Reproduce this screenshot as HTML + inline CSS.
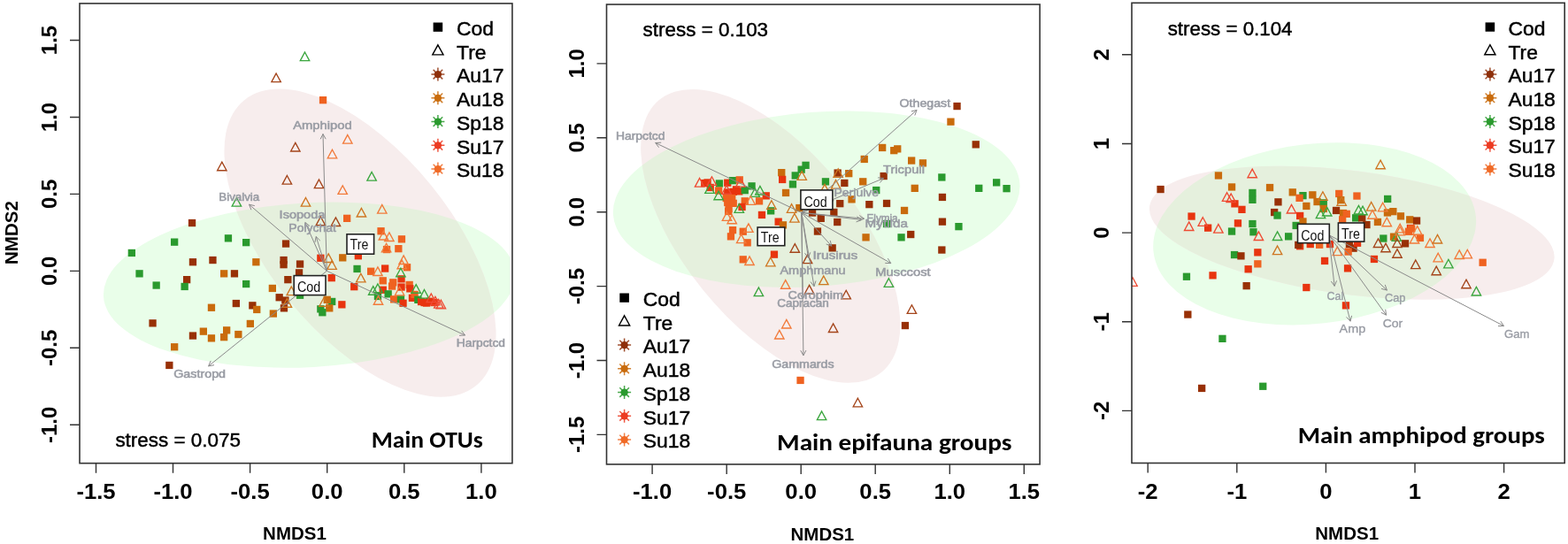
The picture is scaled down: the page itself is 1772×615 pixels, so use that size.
<!DOCTYPE html>
<html><head><meta charset="utf-8"><title>NMDS plots</title>
<style>html,body{margin:0;padding:0;background:#fff;}svg{display:block;}</style>
</head><body>
<svg width="1772" height="615" viewBox="0 0 1772 615">
<rect width="1772" height="615" fill="#fff"/>
<clipPath id="clip1"><rect x="90.0" y="3.9" width="488.9" height="519.8000000000001"/></clipPath>
<clipPath id="ce1"><rect x="92.0" y="5.9" width="484.4" height="515.3000000000001"/></clipPath>
<g clip-path="url(#ce1)">
<clipPath id="ge1"><ellipse cx="349.56" cy="322.15" rx="232.93" ry="92.87" transform="rotate(-3.18 349.56 322.15)" fill="rgb(233,254,233)"/></clipPath>
<ellipse cx="349.56" cy="322.15" rx="232.93" ry="92.87" transform="rotate(-3.18 349.56 322.15)" fill="rgb(233,254,233)"/>
<ellipse cx="407.01" cy="274.61" rx="207.88" ry="103.35" transform="rotate(50.96 407.01 274.61)" fill="rgb(247,237,237)"/>
<g clip-path="url(#ge1)"><ellipse cx="407.01" cy="274.61" rx="207.88" ry="103.35" transform="rotate(50.96 407.01 274.61)" fill="rgb(229,240,221)"/></g>
</g>
<g clip-path="url(#clip1)">
<rect x="144.7" y="281.8" width="8.3" height="8.3" fill="#2a9a2e"/>
<rect x="213.8" y="292.1" width="8.3" height="8.3" fill="#983006"/>
<rect x="236.3" y="289.9" width="8.3" height="8.3" fill="#983006"/>
<rect x="285.2" y="292.1" width="8.3" height="8.3" fill="#c96b0c"/>
<rect x="316.4" y="289.9" width="8.3" height="8.3" fill="#983006"/>
<rect x="316.4" y="295.0" width="8.3" height="8.3" fill="#983006"/>
<rect x="334.9" y="294.4" width="8.3" height="8.3" fill="#983006"/>
<rect x="383.1" y="287.2" width="8.3" height="8.3" fill="#c96b0c"/>
<rect x="153.4" y="305.2" width="8.3" height="8.3" fill="#2a9a2e"/>
<rect x="249.0" y="305.2" width="8.3" height="8.3" fill="#c96b0c"/>
<rect x="260.8" y="305.2" width="8.3" height="8.3" fill="#983006"/>
<rect x="207.0" y="312.0" width="8.3" height="8.3" fill="#983006"/>
<rect x="172.5" y="318.4" width="8.3" height="8.3" fill="#2a9a2e"/>
<rect x="204.5" y="319.8" width="8.3" height="8.3" fill="#2a9a2e"/>
<rect x="274.0" y="316.9" width="8.3" height="8.3" fill="#2a9a2e"/>
<rect x="333.9" y="304.2" width="8.3" height="8.3" fill="#983006"/>
<rect x="321.2" y="312.0" width="8.3" height="8.3" fill="#983006"/>
<rect x="370.6" y="310.0" width="8.3" height="8.3" fill="#e8340f"/>
<rect x="303.7" y="321.8" width="8.3" height="8.3" fill="#c96b0c"/>
<rect x="311.5" y="332.1" width="8.3" height="8.3" fill="#983006"/>
<rect x="318.2" y="335.4" width="8.3" height="8.3" fill="#983006"/>
<rect x="316.8" y="344.2" width="8.3" height="8.3" fill="#983006"/>
<rect x="334.9" y="329.6" width="8.3" height="8.3" fill="#2a9a2e"/>
<rect x="371.0" y="336.8" width="8.3" height="8.3" fill="#2a9a2e"/>
<rect x="368.1" y="344.2" width="8.3" height="8.3" fill="#c96b0c"/>
<rect x="358.2" y="345.2" width="8.3" height="8.3" fill="#2a9a2e"/>
<rect x="360.2" y="349.1" width="8.3" height="8.3" fill="#2a9a2e"/>
<rect x="382.2" y="340.2" width="8.3" height="8.3" fill="#e8340f"/>
<rect x="234.8" y="343.6" width="8.3" height="8.3" fill="#c96b0c"/>
<rect x="262.7" y="338.9" width="8.3" height="8.3" fill="#983006"/>
<rect x="281.2" y="341.2" width="8.3" height="8.3" fill="#983006"/>
<rect x="286.1" y="345.8" width="8.3" height="8.3" fill="#c96b0c"/>
<rect x="304.7" y="350.4" width="8.3" height="8.3" fill="#c96b0c"/>
<rect x="168.4" y="361.2" width="8.3" height="8.3" fill="#983006"/>
<rect x="278.7" y="361.8" width="8.3" height="8.3" fill="#c96b0c"/>
<rect x="213.8" y="375.4" width="8.3" height="8.3" fill="#983006"/>
<rect x="225.7" y="370.5" width="8.3" height="8.3" fill="#c96b0c"/>
<rect x="234.8" y="378.2" width="8.3" height="8.3" fill="#c96b0c"/>
<rect x="252.0" y="369.2" width="8.3" height="8.3" fill="#c96b0c"/>
<rect x="249.0" y="377.0" width="8.3" height="8.3" fill="#c96b0c"/>
<rect x="265.2" y="373.9" width="8.3" height="8.3" fill="#c96b0c"/>
<rect x="193.0" y="388.1" width="8.3" height="8.3" fill="#c96b0c"/>
<rect x="358.2" y="287.6" width="8.3" height="8.3" fill="#e8340f"/>
<rect x="388.0" y="242.7" width="8.3" height="8.3" fill="#ef6220"/>
<rect x="212.9" y="247.9" width="8.3" height="8.3" fill="#983006"/>
<rect x="193.0" y="269.5" width="8.3" height="8.3" fill="#2a9a2e"/>
<rect x="253.8" y="265.2" width="8.3" height="8.3" fill="#2a9a2e"/>
<rect x="274.0" y="270.0" width="8.3" height="8.3" fill="#2a9a2e"/>
<rect x="318.9" y="271.4" width="8.3" height="8.3" fill="#983006"/>
<rect x="360.9" y="109.0" width="8.3" height="8.3" fill="#ef6220"/>
<rect x="426.4" y="257.1" width="8.3" height="8.3" fill="#ef6220"/>
<rect x="449.8" y="266.2" width="8.3" height="8.3" fill="#ef6220"/>
<rect x="432.9" y="277.9" width="8.3" height="8.3" fill="#ef6220"/>
<rect x="446.2" y="277.0" width="8.3" height="8.3" fill="#ef6220"/>
<rect x="400.7" y="285.1" width="8.3" height="8.3" fill="#e8340f"/>
<rect x="455.9" y="298.1" width="8.3" height="8.3" fill="#ef6220"/>
<rect x="431.0" y="299.4" width="8.3" height="8.3" fill="#e8340f"/>
<rect x="399.4" y="299.8" width="8.3" height="8.3" fill="#2a9a2e"/>
<rect x="415.0" y="302.6" width="8.3" height="8.3" fill="#ef6220"/>
<rect x="396.1" y="320.0" width="8.3" height="8.3" fill="#e8340f"/>
<rect x="428.6" y="313.2" width="8.3" height="8.3" fill="#ef6220"/>
<rect x="440.1" y="315.2" width="8.3" height="8.3" fill="#ef6220"/>
<rect x="439.0" y="319.4" width="8.3" height="8.3" fill="#ef6220"/>
<rect x="449.4" y="311.2" width="8.3" height="8.3" fill="#e8340f"/>
<rect x="449.4" y="320.4" width="8.3" height="8.3" fill="#e8340f"/>
<rect x="458.5" y="317.8" width="8.3" height="8.3" fill="#ef6220"/>
<rect x="459.2" y="322.2" width="8.3" height="8.3" fill="#e8340f"/>
<rect x="422.8" y="330.8" width="8.3" height="8.3" fill="#2a9a2e"/>
<rect x="428.6" y="323.6" width="8.3" height="8.3" fill="#e8340f"/>
<rect x="434.5" y="328.2" width="8.3" height="8.3" fill="#2a9a2e"/>
<rect x="441.0" y="334.2" width="8.3" height="8.3" fill="#ef6220"/>
<rect x="448.8" y="334.2" width="8.3" height="8.3" fill="#2a9a2e"/>
<rect x="451.4" y="338.6" width="8.3" height="8.3" fill="#e8340f"/>
<rect x="461.8" y="332.7" width="8.3" height="8.3" fill="#e8340f"/>
<rect x="464.4" y="328.8" width="8.3" height="8.3" fill="#ef6220"/>
<rect x="468.2" y="334.7" width="8.3" height="8.3" fill="#2a9a2e"/>
<rect x="475.4" y="337.9" width="8.3" height="8.3" fill="#e8340f"/>
<rect x="481.2" y="336.6" width="8.3" height="8.3" fill="#e8340f"/>
<rect x="486.5" y="337.9" width="8.3" height="8.3" fill="#e8340f"/>
<rect x="477.9" y="338.4" width="8.3" height="8.3" fill="#e8340f"/>
<rect x="471.9" y="336.9" width="8.3" height="8.3" fill="#e8340f"/>
<rect x="365.6" y="334.7" width="8.3" height="8.3" fill="#c96b0c"/>
<rect x="187.2" y="408.8" width="8.3" height="8.3" fill="#983006"/>
<path d="M329.3 324.0L334.5 333.6L324.1 333.6Z" fill="none" stroke="#cf7622" stroke-width="1.35" stroke-linejoin="miter"/>
<path d="M324.4 337.6L329.6 347.2L319.2 347.2Z" fill="none" stroke="#cf7622" stroke-width="1.35" stroke-linejoin="miter"/>
<path d="M366.0 336.7L371.2 346.3L360.8 346.3Z" fill="none" stroke="#cf7622" stroke-width="1.35" stroke-linejoin="miter"/>
<path d="M375.1 294.7L380.3 304.3L369.9 304.3Z" fill="none" stroke="#cf7622" stroke-width="1.35" stroke-linejoin="miter"/>
<path d="M371.2 286.9L376.4 296.5L366.0 296.5Z" fill="none" stroke="#cf7622" stroke-width="1.35" stroke-linejoin="miter"/>
<path d="M333.8 161.4L339.0 171.0L328.6 171.0Z" fill="none" stroke="#a4441a" stroke-width="1.35" stroke-linejoin="miter"/>
<path d="M375.5 169.2L380.7 178.8L370.3 178.8Z" fill="none" stroke="#f27a3a" stroke-width="1.35" stroke-linejoin="miter"/>
<path d="M250.8 183.1L256.0 192.7L245.6 192.7Z" fill="none" stroke="#a4441a" stroke-width="1.35" stroke-linejoin="miter"/>
<path d="M324.4 198.5L329.6 208.1L319.2 208.1Z" fill="none" stroke="#a4441a" stroke-width="1.35" stroke-linejoin="miter"/>
<path d="M360.5 203.0L365.7 212.6L355.3 212.6Z" fill="none" stroke="#a4441a" stroke-width="1.35" stroke-linejoin="miter"/>
<path d="M387.2 209.8L392.4 219.4L382.0 219.4Z" fill="none" stroke="#f27a3a" stroke-width="1.35" stroke-linejoin="miter"/>
<path d="M345.5 223.5L350.7 233.1L340.3 233.1Z" fill="none" stroke="#cf7622" stroke-width="1.35" stroke-linejoin="miter"/>
<path d="M267.4 223.5L272.6 233.1L262.2 233.1Z" fill="none" stroke="#3aa63e" stroke-width="1.35" stroke-linejoin="miter"/>
<path d="M362.4 245.0L367.6 254.6L357.2 254.6Z" fill="none" stroke="#a4441a" stroke-width="1.35" stroke-linejoin="miter"/>
<path d="M379.4 245.9L384.6 255.5L374.2 255.5Z" fill="none" stroke="#a4441a" stroke-width="1.35" stroke-linejoin="miter"/>
<path d="M344.5 59.0L349.7 68.6L339.3 68.6Z" fill="none" stroke="#3aa63e" stroke-width="1.35" stroke-linejoin="miter"/>
<path d="M312.1 83.0L317.3 92.6L306.9 92.6Z" fill="none" stroke="#a4441a" stroke-width="1.35" stroke-linejoin="miter"/>
<path d="M392.8 152.5L398.0 162.1L387.6 162.1Z" fill="none" stroke="#f27a3a" stroke-width="1.35" stroke-linejoin="miter"/>
<path d="M420.1 194.5L425.3 204.1L414.9 204.1Z" fill="none" stroke="#3aa63e" stroke-width="1.35" stroke-linejoin="miter"/>
<path d="M408.4 235.4L413.6 245.0L403.2 245.0Z" fill="none" stroke="#cf7622" stroke-width="1.35" stroke-linejoin="miter"/>
<path d="M431.8 231.5L437.0 241.1L426.6 241.1Z" fill="none" stroke="#f27a3a" stroke-width="1.35" stroke-linejoin="miter"/>
<path d="M433.4 261.4L438.6 271.0L428.2 271.0Z" fill="none" stroke="#f27a3a" stroke-width="1.35" stroke-linejoin="miter"/>
<path d="M439.9 262.9L445.1 272.5L434.7 272.5Z" fill="none" stroke="#f27a3a" stroke-width="1.35" stroke-linejoin="miter"/>
<path d="M436.6 275.3L441.8 284.9L431.4 284.9Z" fill="none" stroke="#f27a3a" stroke-width="1.35" stroke-linejoin="miter"/>
<path d="M456.1 288.9L461.3 298.5L450.9 298.5Z" fill="none" stroke="#f27a3a" stroke-width="1.35" stroke-linejoin="miter"/>
<path d="M454.2 294.1L459.4 303.7L449.0 303.7Z" fill="none" stroke="#f27a3a" stroke-width="1.35" stroke-linejoin="miter"/>
<path d="M426.9 301.9L432.1 311.5L421.7 311.5Z" fill="none" stroke="#f27a3a" stroke-width="1.35" stroke-linejoin="miter"/>
<path d="M452.9 303.2L458.1 312.8L447.7 312.8Z" fill="none" stroke="#3aa63e" stroke-width="1.35" stroke-linejoin="miter"/>
<path d="M407.8 309.3L413.0 318.9L402.6 318.9Z" fill="none" stroke="#cf7622" stroke-width="1.35" stroke-linejoin="miter"/>
<path d="M451.6 324.2L456.8 333.8L446.4 333.8Z" fill="none" stroke="#f27a3a" stroke-width="1.35" stroke-linejoin="miter"/>
<path d="M470.2 321.6L475.4 331.2L465.0 331.2Z" fill="none" stroke="#3aa63e" stroke-width="1.35" stroke-linejoin="miter"/>
<path d="M479.5 327.5L484.7 337.1L474.3 337.1Z" fill="none" stroke="#3aa63e" stroke-width="1.35" stroke-linejoin="miter"/>
<path d="M421.7 323.6L426.9 333.2L416.5 333.2Z" fill="none" stroke="#3aa63e" stroke-width="1.35" stroke-linejoin="miter"/>
<path d="M426.9 321.0L432.1 330.6L421.7 330.6Z" fill="none" stroke="#3aa63e" stroke-width="1.35" stroke-linejoin="miter"/>
<path d="M427.5 334.6L432.7 344.2L422.3 344.2Z" fill="none" stroke="#f27a3a" stroke-width="1.35" stroke-linejoin="miter"/>
<path d="M487.3 332.0L492.5 341.6L482.1 341.6Z" fill="none" stroke="#ef4a32" stroke-width="1.35" stroke-linejoin="miter"/>
<path d="M491.9 335.3L497.1 344.9L486.7 344.9Z" fill="none" stroke="#ef4a32" stroke-width="1.35" stroke-linejoin="miter"/>
<path d="M495.8 338.5L501.0 348.1L490.6 348.1Z" fill="none" stroke="#ef4a32" stroke-width="1.35" stroke-linejoin="miter"/>
<path d="M498.4 339.2L503.6 348.8L493.2 348.8Z" fill="none" stroke="#ef4a32" stroke-width="1.35" stroke-linejoin="miter"/>
</g>
<path d="M369.3 306.3L365.0 151.5M362.1 157.3L365.0 151.5L368.2 157.2" stroke="#8a8a8a" stroke-width="1" fill="none"/>
<path d="M369.3 306.3L281.5 231.2M283.9 237.2L281.5 231.2L287.8 232.6" stroke="#8a8a8a" stroke-width="1" fill="none"/>
<path d="M369.3 306.3L344.9 251.5M344.4 258.0L344.9 251.5L350.0 255.5" stroke="#8a8a8a" stroke-width="1" fill="none"/>
<path d="M369.3 306.3L357.2 267.5M356.0 273.9L357.2 267.5L361.8 272.1" stroke="#8a8a8a" stroke-width="1" fill="none"/>
<path d="M369.3 306.3L235.6 413.9M242.0 412.7L235.6 413.9L238.2 407.9" stroke="#8a8a8a" stroke-width="1" fill="none"/>
<path d="M369.3 306.3L525.5 379.0M521.6 373.8L525.5 379.0L519.0 379.3" stroke="#8a8a8a" stroke-width="1" fill="none"/>
<text x="331.2" y="146.3" font-family='"Liberation Sans", Arial, sans-serif' font-size="12.8" font-weight="normal" text-anchor="start" fill="#999ca4" textLength="66.4" lengthAdjust="spacingAndGlyphs" stroke="#999ca4" stroke-width="0.55">Amphipod</text>
<text x="247.3" y="227.3" font-family='"Liberation Sans", Arial, sans-serif' font-size="12.8" font-weight="normal" text-anchor="start" fill="#999ca4" textLength="45.9" lengthAdjust="spacingAndGlyphs" stroke="#999ca4" stroke-width="0.55">Bivalvia</text>
<text x="315.6" y="246.8" font-family='"Liberation Sans", Arial, sans-serif' font-size="12.8" font-weight="normal" text-anchor="start" fill="#999ca4" textLength="51.7" lengthAdjust="spacingAndGlyphs" stroke="#999ca4" stroke-width="0.55">Isopoda</text>
<text x="326.3" y="261.5" font-family='"Liberation Sans", Arial, sans-serif' font-size="12.8" font-weight="normal" text-anchor="start" fill="#999ca4" textLength="53.7" lengthAdjust="spacingAndGlyphs" stroke="#999ca4" stroke-width="0.55">Polychat</text>
<text x="196.2" y="426.6" font-family='"Liberation Sans", Arial, sans-serif' font-size="12.8" font-weight="normal" text-anchor="start" fill="#999ca4" textLength="58.9" lengthAdjust="spacingAndGlyphs" stroke="#999ca4" stroke-width="0.55">Gastropd</text>
<text x="515.8" y="392.4" font-family='"Liberation Sans", Arial, sans-serif' font-size="12.8" font-weight="normal" text-anchor="start" fill="#999ca4" textLength="55.2" lengthAdjust="spacingAndGlyphs" stroke="#999ca4" stroke-width="0.55">Harpctcd</text>
<rect x="332.2" y="311.6" width="35.8" height="22.0" fill="#fff" stroke="#222" stroke-width="1.6"/><text x="336.0" y="329.59999999999997" font-family='"Liberation Sans", Arial, sans-serif' font-size="16" font-weight="normal" text-anchor="start" fill="#111" textLength="26.3" lengthAdjust="spacingAndGlyphs">Cod</text>
<rect x="392.0" y="264.8" width="30.6" height="22.4" fill="#fff" stroke="#222" stroke-width="1.6"/><text x="395.6" y="282.09999999999997" font-family='"Liberation Sans", Arial, sans-serif' font-size="16" font-weight="normal" text-anchor="start" fill="#111" textLength="20.7" lengthAdjust="spacingAndGlyphs">Tre</text>
<text x="130.4" y="505.0" font-family='"Liberation Sans", Arial, sans-serif' font-size="22.4" font-weight="normal" text-anchor="start" fill="#000" textLength="141.5" lengthAdjust="spacingAndGlyphs" stroke="#000" stroke-width="0.45">stress = 0.075</text>
<text x="419.8" y="506.3" font-family='Carlito, "Liberation Sans", Arial, sans-serif' font-size="26" font-weight="bold" text-anchor="start" fill="#000" textLength="126.0" lengthAdjust="spacingAndGlyphs">Main OTUs</text>
<rect x="489.6" y="25.5" width="10.6" height="10.3" fill="#000"/><text x="0" y="0" font-family='"Liberation Sans", Arial, sans-serif' font-size="21.8" font-weight="normal" text-anchor="start" fill="#000" stroke="#000" stroke-width="0.45" transform="translate(516.1 39.8) scale(1.05 1)">Cod</text><path d="M494.9 50.8L501.0 61.9L488.8 61.9Z" fill="none" stroke="#000" stroke-width="1.4" stroke-linejoin="miter"/><text x="0" y="0" font-family='"Liberation Sans", Arial, sans-serif' font-size="21.8" font-weight="normal" text-anchor="start" fill="#000" stroke="#000" stroke-width="0.45" transform="translate(516.1 66.5) scale(1.05 1)">Tre</text><path d="M487.40 84.10L502.40 84.10M489.60 78.80L500.20 89.40M494.90 76.60L494.90 91.60M500.20 78.80L489.60 89.40" stroke="#8e2f0a" stroke-width="1.5" fill="none" opacity="0.85"/><circle cx="494.9" cy="84.1" r="4.2" fill="#8e2f0a"/><text x="0" y="0" font-family='"Liberation Sans", Arial, sans-serif' font-size="21.8" font-weight="normal" text-anchor="start" fill="#000" stroke="#000" stroke-width="0.45" transform="translate(516.1 93.3) scale(1.05 1)">Au17</text><path d="M487.40 110.85L502.40 110.85M489.60 105.55L500.20 116.15M494.90 103.35L494.90 118.35M500.20 105.55L489.60 116.15" stroke="#c96b0c" stroke-width="1.5" fill="none" opacity="0.85"/><circle cx="494.9" cy="110.85" r="4.2" fill="#c96b0c"/><text x="0" y="0" font-family='"Liberation Sans", Arial, sans-serif' font-size="21.8" font-weight="normal" text-anchor="start" fill="#000" stroke="#000" stroke-width="0.45" transform="translate(516.1 120.0) scale(1.05 1)">Au18</text><path d="M487.40 137.60L502.40 137.60M489.60 132.30L500.20 142.90M494.90 130.10L494.90 145.10M500.20 132.30L489.60 142.90" stroke="#2a9a2e" stroke-width="1.5" fill="none" opacity="0.85"/><circle cx="494.9" cy="137.60000000000002" r="4.2" fill="#2a9a2e"/><text x="0" y="0" font-family='"Liberation Sans", Arial, sans-serif' font-size="21.8" font-weight="normal" text-anchor="start" fill="#000" stroke="#000" stroke-width="0.45" transform="translate(516.1 146.8) scale(1.05 1)">Sp18</text><path d="M487.40 164.35L502.40 164.35M489.60 159.05L500.20 169.65M494.90 156.85L494.90 171.85M500.20 159.05L489.60 169.65" stroke="#ec3b22" stroke-width="1.5" fill="none" opacity="0.85"/><circle cx="494.9" cy="164.35000000000002" r="4.2" fill="#ec3b22"/><text x="0" y="0" font-family='"Liberation Sans", Arial, sans-serif' font-size="21.8" font-weight="normal" text-anchor="start" fill="#000" stroke="#000" stroke-width="0.45" transform="translate(516.1 173.6) scale(1.05 1)">Su17</text><path d="M487.40 191.10L502.40 191.10M489.60 185.80L500.20 196.40M494.90 183.60L494.90 198.60M500.20 185.80L489.60 196.40" stroke="#f06a26" stroke-width="1.5" fill="none" opacity="0.85"/><circle cx="494.9" cy="191.10000000000002" r="4.2" fill="#f06a26"/><text x="0" y="0" font-family='"Liberation Sans", Arial, sans-serif' font-size="21.8" font-weight="normal" text-anchor="start" fill="#000" stroke="#000" stroke-width="0.45" transform="translate(516.1 200.3) scale(1.05 1)">Su18</text>
<text x="0" y="0" font-family='"Liberation Sans", Arial, sans-serif' font-size="20.5" font-weight="bold" text-anchor="middle" fill="#000" transform="translate(19.5 263.1) rotate(-90)">NMDS2</text>
<text x="333.0" y="610.1" font-family='"Liberation Sans", Arial, sans-serif' font-size="20.5" font-weight="bold" text-anchor="middle" fill="#000">NMDS1</text>
<rect x="90.0" y="3.9" width="488.9" height="519.8" fill="none" stroke="#333" stroke-width="1.6"/>
<text x="0" y="0" font-family='"Liberation Sans", Arial, sans-serif' font-size="24" font-weight="bold" text-anchor="middle" fill="#000" transform="translate(108.5 563.9) scale(1.07 1)">-1.5</text>
<text x="0" y="0" font-family='"Liberation Sans", Arial, sans-serif' font-size="24" font-weight="bold" text-anchor="middle" fill="#000" transform="translate(195.5 563.9) scale(1.07 1)">-1.0</text>
<text x="0" y="0" font-family='"Liberation Sans", Arial, sans-serif' font-size="24" font-weight="bold" text-anchor="middle" fill="#000" transform="translate(282.6 563.9) scale(1.07 1)">-0.5</text>
<text x="0" y="0" font-family='"Liberation Sans", Arial, sans-serif' font-size="24" font-weight="bold" text-anchor="middle" fill="#000" transform="translate(369.7 563.9) scale(1.07 1)">0.0</text>
<text x="0" y="0" font-family='"Liberation Sans", Arial, sans-serif' font-size="24" font-weight="bold" text-anchor="middle" fill="#000" transform="translate(456.8 563.9) scale(1.07 1)">0.5</text>
<text x="0" y="0" font-family='"Liberation Sans", Arial, sans-serif' font-size="24" font-weight="bold" text-anchor="middle" fill="#000" transform="translate(543.9 563.9) scale(1.07 1)">1.0</text>
<text x="0" y="0" font-family='"Liberation Sans", Arial, sans-serif' font-size="24" font-weight="bold" text-anchor="middle" fill="#000" transform="translate(64.0 480.3) rotate(-90)">-1.0</text>
<text x="0" y="0" font-family='"Liberation Sans", Arial, sans-serif' font-size="24" font-weight="bold" text-anchor="middle" fill="#000" transform="translate(64.0 393.3) rotate(-90)">-0.5</text>
<text x="0" y="0" font-family='"Liberation Sans", Arial, sans-serif' font-size="24" font-weight="bold" text-anchor="middle" fill="#000" transform="translate(64.0 306.4) rotate(-90)">0.0</text>
<text x="0" y="0" font-family='"Liberation Sans", Arial, sans-serif' font-size="24" font-weight="bold" text-anchor="middle" fill="#000" transform="translate(64.0 219.4) rotate(-90)">0.5</text>
<text x="0" y="0" font-family='"Liberation Sans", Arial, sans-serif' font-size="24" font-weight="bold" text-anchor="middle" fill="#000" transform="translate(64.0 132.5) rotate(-90)">1.0</text>
<text x="0" y="0" font-family='"Liberation Sans", Arial, sans-serif' font-size="24" font-weight="bold" text-anchor="middle" fill="#000" transform="translate(64.0 45.5) rotate(-90)">1.5</text>
<path d="M108.5 523.7V534.7M195.5 523.7V534.7M282.6 523.7V534.7M369.7 523.7V534.7M456.8 523.7V534.7M543.9 523.7V534.7M90.0 480.3H79.0M90.0 393.3H79.0M90.0 306.4H79.0M90.0 219.4H79.0M90.0 132.5H79.0M90.0 45.5H79.0" stroke="#333" stroke-width="1.4" fill="none"/>
<clipPath id="clip2"><rect x="685.5" y="5.0" width="489.5999999999999" height="519.9"/></clipPath>
<clipPath id="ce2"><rect x="687.5" y="7.0" width="485.0999999999999" height="515.4"/></clipPath>
<g clip-path="url(#ce2)">
<clipPath id="ge2"><ellipse cx="922.69" cy="225.25" rx="230.43" ry="98.43" transform="rotate(-4.44 922.69 225.25)" fill="rgb(233,254,233)"/></clipPath>
<ellipse cx="922.69" cy="225.25" rx="230.43" ry="98.43" transform="rotate(-4.44 922.69 225.25)" fill="rgb(233,254,233)"/>
<ellipse cx="870.75" cy="266.83" rx="198.72" ry="97.69" transform="rotate(50.82 870.75 266.83)" fill="rgb(247,237,237)"/>
<g clip-path="url(#ge2)"><ellipse cx="870.75" cy="266.83" rx="198.72" ry="97.69" transform="rotate(50.82 870.75 266.83)" fill="rgb(229,240,221)"/></g>
</g>
<g clip-path="url(#clip2)">
<rect x="879.1" y="191.0" width="8.3" height="8.3" fill="#c96b0c"/>
<rect x="880.0" y="198.8" width="8.3" height="8.3" fill="#e8340f"/>
<rect x="906.4" y="182.7" width="8.3" height="8.3" fill="#2a9a2e"/>
<rect x="901.5" y="187.5" width="8.3" height="8.3" fill="#2a9a2e"/>
<rect x="894.6" y="194.3" width="8.3" height="8.3" fill="#2a9a2e"/>
<rect x="891.8" y="204.2" width="8.3" height="8.3" fill="#2a9a2e"/>
<rect x="942.5" y="191.4" width="8.3" height="8.3" fill="#983006"/>
<rect x="955.1" y="192.0" width="8.3" height="8.3" fill="#c96b0c"/>
<rect x="950.2" y="202.8" width="8.3" height="8.3" fill="#983006"/>
<rect x="928.8" y="201.2" width="8.3" height="8.3" fill="#2a9a2e"/>
<rect x="972.6" y="175.8" width="8.3" height="8.3" fill="#c96b0c"/>
<rect x="971.1" y="201.2" width="8.3" height="8.3" fill="#c96b0c"/>
<rect x="883.9" y="213.8" width="8.3" height="8.3" fill="#c96b0c"/>
<rect x="792.1" y="202.9" width="8.3" height="8.3" fill="#e8340f"/>
<rect x="795.4" y="202.3" width="8.3" height="8.3" fill="#e8340f"/>
<rect x="798.6" y="207.8" width="8.3" height="8.3" fill="#e8340f"/>
<rect x="808.8" y="203.3" width="8.3" height="8.3" fill="#2a9a2e"/>
<rect x="808.0" y="211.4" width="8.3" height="8.3" fill="#ef6220"/>
<rect x="818.1" y="202.5" width="8.3" height="8.3" fill="#e8340f"/>
<rect x="823.9" y="200.0" width="8.3" height="8.3" fill="#2a9a2e"/>
<rect x="831.6" y="199.2" width="8.3" height="8.3" fill="#ef6220"/>
<rect x="818.1" y="213.4" width="8.3" height="8.3" fill="#e8340f"/>
<rect x="827.9" y="210.2" width="8.3" height="8.3" fill="#e8340f"/>
<rect x="824.6" y="212.7" width="8.3" height="8.3" fill="#e8340f"/>
<rect x="831.1" y="212.2" width="8.3" height="8.3" fill="#e8340f"/>
<rect x="837.6" y="211.0" width="8.3" height="8.3" fill="#2a9a2e"/>
<rect x="845.4" y="206.2" width="8.3" height="8.3" fill="#2a9a2e"/>
<rect x="861.6" y="217.2" width="8.3" height="8.3" fill="#e8340f"/>
<rect x="816.6" y="219.9" width="8.3" height="8.3" fill="#ef6220"/>
<rect x="823.1" y="219.9" width="8.3" height="8.3" fill="#ef6220"/>
<rect x="818.1" y="224.8" width="8.3" height="8.3" fill="#ef6220"/>
<rect x="824.6" y="225.7" width="8.3" height="8.3" fill="#ef6220"/>
<rect x="819.4" y="232.2" width="8.3" height="8.3" fill="#ef6220"/>
<rect x="837.6" y="223.2" width="8.3" height="8.3" fill="#ef6220"/>
<rect x="853.9" y="223.2" width="8.3" height="8.3" fill="#ef6220"/>
<rect x="834.4" y="229.8" width="8.3" height="8.3" fill="#e8340f"/>
<rect x="867.0" y="234.2" width="8.3" height="8.3" fill="#2a9a2e"/>
<rect x="819.0" y="234.8" width="8.3" height="8.3" fill="#ef6220"/>
<rect x="856.8" y="238.8" width="8.3" height="8.3" fill="#e8340f"/>
<rect x="875.5" y="246.5" width="8.3" height="8.3" fill="#e8340f"/>
<rect x="880.8" y="250.2" width="8.3" height="8.3" fill="#c96b0c"/>
<rect x="823.9" y="256.0" width="8.3" height="8.3" fill="#ef6220"/>
<rect x="821.8" y="263.2" width="8.3" height="8.3" fill="#ef6220"/>
<rect x="835.6" y="257.6" width="8.3" height="8.3" fill="#ef6220"/>
<rect x="840.5" y="270.2" width="8.3" height="8.3" fill="#ef6220"/>
<rect x="870.8" y="283.5" width="8.3" height="8.3" fill="#e8340f"/>
<rect x="835.6" y="289.2" width="8.3" height="8.3" fill="#ef6220"/>
<rect x="936.5" y="276.2" width="8.3" height="8.3" fill="#983006"/>
<rect x="1018.8" y="363.9" width="8.3" height="8.3" fill="#983006"/>
<rect x="900.4" y="425.8" width="8.3" height="8.3" fill="#ef6220"/>
<rect x="1077.4" y="115.9" width="8.3" height="8.3" fill="#983006"/>
<rect x="1070.3" y="133.5" width="8.3" height="8.3" fill="#c96b0c"/>
<rect x="1098.6" y="159.2" width="8.3" height="8.3" fill="#983006"/>
<rect x="993.0" y="162.8" width="8.3" height="8.3" fill="#c96b0c"/>
<rect x="1006.1" y="166.0" width="8.3" height="8.3" fill="#c96b0c"/>
<rect x="1010.1" y="164.2" width="8.3" height="8.3" fill="#c96b0c"/>
<rect x="1026.0" y="177.4" width="8.3" height="8.3" fill="#c96b0c"/>
<rect x="1038.8" y="180.2" width="8.3" height="8.3" fill="#c96b0c"/>
<rect x="994.5" y="194.9" width="8.3" height="8.3" fill="#983006"/>
<rect x="1029.6" y="208.7" width="8.3" height="8.3" fill="#c96b0c"/>
<rect x="1060.2" y="196.3" width="8.3" height="8.3" fill="#2a9a2e"/>
<rect x="1102.1" y="208.7" width="8.3" height="8.3" fill="#2a9a2e"/>
<rect x="1122.0" y="202.2" width="8.3" height="8.3" fill="#2a9a2e"/>
<rect x="1133.4" y="209.0" width="8.3" height="8.3" fill="#2a9a2e"/>
<rect x="986.1" y="210.9" width="8.3" height="8.3" fill="#2a9a2e"/>
<rect x="958.4" y="221.2" width="8.3" height="8.3" fill="#c96b0c"/>
<rect x="945.1" y="226.0" width="8.3" height="8.3" fill="#983006"/>
<rect x="978.2" y="227.0" width="8.3" height="8.3" fill="#983006"/>
<rect x="997.9" y="225.8" width="8.3" height="8.3" fill="#983006"/>
<rect x="1060.8" y="218.8" width="8.3" height="8.3" fill="#983006"/>
<rect x="1017.9" y="233.8" width="8.3" height="8.3" fill="#c96b0c"/>
<rect x="899.2" y="230.9" width="8.3" height="8.3" fill="#c96b0c"/>
<rect x="913.9" y="236.4" width="8.3" height="8.3" fill="#983006"/>
<rect x="923.6" y="242.7" width="8.3" height="8.3" fill="#983006"/>
<rect x="938.2" y="235.8" width="8.3" height="8.3" fill="#983006"/>
<rect x="942.1" y="246.9" width="8.3" height="8.3" fill="#983006"/>
<rect x="919.8" y="257.4" width="8.3" height="8.3" fill="#983006"/>
<rect x="974.4" y="264.2" width="8.3" height="8.3" fill="#c96b0c"/>
<rect x="997.9" y="248.9" width="8.3" height="8.3" fill="#2a9a2e"/>
<rect x="1060.8" y="246.5" width="8.3" height="8.3" fill="#983006"/>
<rect x="1079.3" y="252.0" width="8.3" height="8.3" fill="#2a9a2e"/>
<rect x="1014.4" y="264.2" width="8.3" height="8.3" fill="#2a9a2e"/>
<rect x="1025.1" y="260.9" width="8.3" height="8.3" fill="#983006"/>
<rect x="1060.2" y="278.4" width="8.3" height="8.3" fill="#983006"/>
<path d="M906.2 193.7L911.4 203.3L901.0 203.3Z" fill="none" stroke="#cf7622" stroke-width="1.35" stroke-linejoin="miter"/>
<path d="M947.2 190.8L952.4 200.4L942.0 200.4Z" fill="none" stroke="#cf7622" stroke-width="1.35" stroke-linejoin="miter"/>
<path d="M944.6 203.5L949.8 213.1L939.4 213.1Z" fill="none" stroke="#cf7622" stroke-width="1.35" stroke-linejoin="miter"/>
<path d="M932.0 208.4L937.2 218.0L926.8 218.0Z" fill="none" stroke="#cf7622" stroke-width="1.35" stroke-linejoin="miter"/>
<path d="M790.6 201.5L795.8 211.1L785.4 211.1Z" fill="none" stroke="#ef4a32" stroke-width="1.35" stroke-linejoin="miter"/>
<path d="M804.4 199.8L809.6 209.4L799.2 209.4Z" fill="none" stroke="#ef4a32" stroke-width="1.35" stroke-linejoin="miter"/>
<path d="M802.0 208.8L807.2 218.4L796.8 218.4Z" fill="none" stroke="#3aa63e" stroke-width="1.35" stroke-linejoin="miter"/>
<path d="M812.1 216.1L817.3 225.7L806.9 225.7Z" fill="none" stroke="#3aa63e" stroke-width="1.35" stroke-linejoin="miter"/>
<path d="M836.9 201.5L842.1 211.1L831.7 211.1Z" fill="none" stroke="#ef4a32" stroke-width="1.35" stroke-linejoin="miter"/>
<path d="M821.1 209.6L826.3 219.2L815.9 219.2Z" fill="none" stroke="#ef4a32" stroke-width="1.35" stroke-linejoin="miter"/>
<path d="M853.2 212.8L858.4 222.4L848.0 222.4Z" fill="none" stroke="#3aa63e" stroke-width="1.35" stroke-linejoin="miter"/>
<path d="M858.9 210.4L864.1 220.0L853.7 220.0Z" fill="none" stroke="#3aa63e" stroke-width="1.35" stroke-linejoin="miter"/>
<path d="M848.3 221.8L853.5 231.4L843.1 231.4Z" fill="none" stroke="#f27a3a" stroke-width="1.35" stroke-linejoin="miter"/>
<path d="M835.3 230.7L840.5 240.3L830.1 240.3Z" fill="none" stroke="#3aa63e" stroke-width="1.35" stroke-linejoin="miter"/>
<path d="M871.9 226.7L877.1 236.3L866.7 236.3Z" fill="none" stroke="#cf7622" stroke-width="1.35" stroke-linejoin="miter"/>
<path d="M894.6 230.7L899.8 240.3L889.4 240.3Z" fill="none" stroke="#cf7622" stroke-width="1.35" stroke-linejoin="miter"/>
<path d="M821.5 239.8L826.7 249.4L816.3 249.4Z" fill="none" stroke="#f27a3a" stroke-width="1.35" stroke-linejoin="miter"/>
<path d="M827.2 243.1L832.4 252.7L822.0 252.7Z" fill="none" stroke="#f27a3a" stroke-width="1.35" stroke-linejoin="miter"/>
<path d="M845.9 252.8L851.1 262.4L840.7 262.4Z" fill="none" stroke="#f27a3a" stroke-width="1.35" stroke-linejoin="miter"/>
<path d="M837.7 265.0L842.9 274.6L832.5 274.6Z" fill="none" stroke="#f27a3a" stroke-width="1.35" stroke-linejoin="miter"/>
<path d="M897.9 241.5L903.1 251.1L892.7 251.1Z" fill="none" stroke="#cf7622" stroke-width="1.35" stroke-linejoin="miter"/>
<path d="M898.3 275.6L903.5 285.2L893.1 285.2Z" fill="none" stroke="#a4441a" stroke-width="1.35" stroke-linejoin="miter"/>
<path d="M847.0 289.9L852.2 299.5L841.8 299.5Z" fill="none" stroke="#f27a3a" stroke-width="1.35" stroke-linejoin="miter"/>
<path d="M870.8 291.2L876.0 300.8L865.6 300.8Z" fill="none" stroke="#cf7622" stroke-width="1.35" stroke-linejoin="miter"/>
<path d="M912.6 288.0L917.8 297.6L907.4 297.6Z" fill="none" stroke="#a4441a" stroke-width="1.35" stroke-linejoin="miter"/>
<path d="M887.7 316.6L892.9 326.2L882.5 326.2Z" fill="none" stroke="#f27a3a" stroke-width="1.35" stroke-linejoin="miter"/>
<path d="M857.4 325.0L862.6 334.6L852.2 334.6Z" fill="none" stroke="#3aa63e" stroke-width="1.35" stroke-linejoin="miter"/>
<path d="M914.6 322.4L919.8 332.0L909.4 332.0Z" fill="none" stroke="#a4441a" stroke-width="1.35" stroke-linejoin="miter"/>
<path d="M930.8 312.0L936.0 321.6L925.6 321.6Z" fill="none" stroke="#cf7622" stroke-width="1.35" stroke-linejoin="miter"/>
<path d="M956.2 328.3L961.4 337.9L951.0 337.9Z" fill="none" stroke="#a4441a" stroke-width="1.35" stroke-linejoin="miter"/>
<path d="M888.8 361.4L894.0 371.0L883.6 371.0Z" fill="none" stroke="#f27a3a" stroke-width="1.35" stroke-linejoin="miter"/>
<path d="M880.8 373.4L886.0 383.0L875.6 383.0Z" fill="none" stroke="#f27a3a" stroke-width="1.35" stroke-linejoin="miter"/>
<path d="M941.6 365.9L946.8 375.5L936.4 375.5Z" fill="none" stroke="#a4441a" stroke-width="1.35" stroke-linejoin="miter"/>
<path d="M1030.4 344.8L1035.6 354.4L1025.2 354.4Z" fill="none" stroke="#a4441a" stroke-width="1.35" stroke-linejoin="miter"/>
<path d="M969.4 450.2L974.6 459.8L964.2 459.8Z" fill="none" stroke="#a4441a" stroke-width="1.35" stroke-linejoin="miter"/>
<path d="M928.6 465.0L933.8 474.6L923.4 474.6Z" fill="none" stroke="#3aa63e" stroke-width="1.35" stroke-linejoin="miter"/>
<path d="M1004.4 314.7L1009.6 324.3L999.2 324.3Z" fill="none" stroke="#3aa63e" stroke-width="1.35" stroke-linejoin="miter"/>
</g>
<path d="M905.8 240.4L740.7 161.5M744.6 166.7L740.7 161.5L747.2 161.2" stroke="#8a8a8a" stroke-width="1" fill="none"/>
<path d="M905.8 240.4L1036.1 124.4M1029.8 125.9L1036.1 124.4L1033.8 130.5" stroke="#8a8a8a" stroke-width="1" fill="none"/>
<path d="M905.8 240.4L998.6 201.5M992.1 200.9L998.6 201.5L994.5 206.5" stroke="#8a8a8a" stroke-width="1" fill="none"/>
<path d="M905.8 240.4L942.0 226.5M935.5 225.7L942.0 226.5L937.7 231.4" stroke="#8a8a8a" stroke-width="1" fill="none"/>
<path d="M905.8 240.4L976.6 247.2M971.2 243.6L976.6 247.2L970.6 249.7" stroke="#8a8a8a" stroke-width="1" fill="none"/>
<path d="M905.8 240.4L973.7 248.5M968.4 244.8L973.7 248.5L967.6 250.9" stroke="#8a8a8a" stroke-width="1" fill="none"/>
<path d="M905.8 240.4L1006.8 297.6M1003.3 292.1L1006.8 297.6L1000.3 297.4" stroke="#8a8a8a" stroke-width="1" fill="none"/>
<path d="M905.8 240.4L939.8 278.2M938.2 271.9L939.8 278.2L933.7 276.0" stroke="#8a8a8a" stroke-width="1" fill="none"/>
<path d="M905.8 240.4L913.5 291.5M915.7 285.4L913.5 291.5L909.6 286.3" stroke="#8a8a8a" stroke-width="1" fill="none"/>
<path d="M905.8 240.4L920.0 323.7M922.0 317.5L920.0 323.7L916.0 318.6" stroke="#8a8a8a" stroke-width="1" fill="none"/>
<path d="M905.8 240.4L907.3 338.0M910.3 332.2L907.3 338.0L904.2 332.3" stroke="#8a8a8a" stroke-width="1" fill="none"/>
<path d="M905.8 240.4L907.9 401.9M910.9 396.1L907.9 401.9L904.8 396.2" stroke="#8a8a8a" stroke-width="1" fill="none"/>
<text x="695.9" y="157.6" font-family='"Liberation Sans", Arial, sans-serif' font-size="12.8" font-weight="normal" text-anchor="start" fill="#999ca4" textLength="55.6" lengthAdjust="spacingAndGlyphs" stroke="#999ca4" stroke-width="0.55">Harpctcd</text>
<text x="1016.6" y="120.5" font-family='"Liberation Sans", Arial, sans-serif' font-size="12.8" font-weight="normal" text-anchor="start" fill="#999ca4" textLength="57.5" lengthAdjust="spacingAndGlyphs" stroke="#999ca4" stroke-width="0.55">Othegast</text>
<text x="998.0" y="196.0" font-family='"Liberation Sans", Arial, sans-serif' font-size="12.8" font-weight="normal" text-anchor="start" fill="#999ca4" textLength="46.9" lengthAdjust="spacingAndGlyphs" stroke="#999ca4" stroke-width="0.55">Tricpull</text>
<text x="942.4" y="221.9" font-family='"Liberation Sans", Arial, sans-serif' font-size="12.8" font-weight="normal" text-anchor="start" fill="#999ca4" textLength="50.8" lengthAdjust="spacingAndGlyphs" stroke="#999ca4" stroke-width="0.55">Perjulve</text>
<text x="979.5" y="251.1" font-family='"Liberation Sans", Arial, sans-serif' font-size="12.8" font-weight="normal" text-anchor="start" fill="#999ca4" textLength="35.1" lengthAdjust="spacingAndGlyphs" stroke="#999ca4" stroke-width="0.55">Elymia</text>
<text x="977.6" y="257.0" font-family='"Liberation Sans", Arial, sans-serif' font-size="12.8" font-weight="normal" text-anchor="start" fill="#999ca4" textLength="48.4" lengthAdjust="spacingAndGlyphs" stroke="#999ca4" stroke-width="0.55">Mytilda</text>
<text x="989.3" y="311.6" font-family='"Liberation Sans", Arial, sans-serif' font-size="12.8" font-weight="normal" text-anchor="start" fill="#999ca4" textLength="62.4" lengthAdjust="spacingAndGlyphs" stroke="#999ca4" stroke-width="0.55">Musccost</text>
<text x="918.5" y="293.4" font-family='"Liberation Sans", Arial, sans-serif' font-size="12.8" font-weight="normal" text-anchor="start" fill="#999ca4" textLength="50.7" lengthAdjust="spacingAndGlyphs" stroke="#999ca4" stroke-width="0.55">Irusirus</text>
<text x="881.4" y="309.7" font-family='"Liberation Sans", Arial, sans-serif' font-size="12.8" font-weight="normal" text-anchor="start" fill="#999ca4" textLength="74.2" lengthAdjust="spacingAndGlyphs" stroke="#999ca4" stroke-width="0.55">Amphmanu</text>
<text x="890.5" y="337.6" font-family='"Liberation Sans", Arial, sans-serif' font-size="12.8" font-weight="normal" text-anchor="start" fill="#999ca4" textLength="62.5" lengthAdjust="spacingAndGlyphs" stroke="#999ca4" stroke-width="0.55">Corophim</text>
<text x="878.2" y="347.4" font-family='"Liberation Sans", Arial, sans-serif' font-size="12.8" font-weight="normal" text-anchor="start" fill="#999ca4" textLength="58.5" lengthAdjust="spacingAndGlyphs" stroke="#999ca4" stroke-width="0.55">Capracan</text>
<text x="872.2" y="416.4" font-family='"Liberation Sans", Arial, sans-serif' font-size="12.8" font-weight="normal" text-anchor="start" fill="#999ca4" textLength="70.5" lengthAdjust="spacingAndGlyphs" stroke="#999ca4" stroke-width="0.55">Gammards</text>
<rect x="904.9" y="214.9" width="36.0" height="21.9" fill="#fff" stroke="#222" stroke-width="1.6"/><text x="908.5" y="233.89999999999998" font-family='"Liberation Sans", Arial, sans-serif' font-size="16" font-weight="normal" text-anchor="start" fill="#111" textLength="26.3" lengthAdjust="spacingAndGlyphs">Cod</text>
<rect x="856.1" y="257.0" width="30.7" height="20.7" fill="#fff" stroke="#222" stroke-width="1.6"/><text x="859.8" y="274.09999999999997" font-family='"Liberation Sans", Arial, sans-serif' font-size="16" font-weight="normal" text-anchor="start" fill="#111" textLength="20.7" lengthAdjust="spacingAndGlyphs">Tre</text>
<text x="726.6" y="40.6" font-family='"Liberation Sans", Arial, sans-serif' font-size="22.4" font-weight="normal" text-anchor="start" fill="#000" textLength="141.5" lengthAdjust="spacingAndGlyphs" stroke="#000" stroke-width="0.45">stress = 0.103</text>
<text x="878.1" y="508.8" font-family='Carlito, "Liberation Sans", Arial, sans-serif' font-size="26" font-weight="bold" text-anchor="start" fill="#000" textLength="265.4" lengthAdjust="spacingAndGlyphs">Main epifauna groups</text>
<rect x="700.3" y="331.5" width="10.6" height="10.3" fill="#000"/><text x="0" y="0" font-family='"Liberation Sans", Arial, sans-serif' font-size="21.8" font-weight="normal" text-anchor="start" fill="#000" stroke="#000" stroke-width="0.45" transform="translate(726.8 345.8) scale(1.05 1)">Cod</text><path d="M705.6 356.8L711.7 368.0L699.5 368.0Z" fill="none" stroke="#000" stroke-width="1.4" stroke-linejoin="miter"/><text x="0" y="0" font-family='"Liberation Sans", Arial, sans-serif' font-size="21.8" font-weight="normal" text-anchor="start" fill="#000" stroke="#000" stroke-width="0.45" transform="translate(726.8 372.6) scale(1.05 1)">Tre</text><path d="M698.10 390.10L713.10 390.10M700.30 384.80L710.90 395.40M705.60 382.60L705.60 397.60M710.90 384.80L700.30 395.40" stroke="#8e2f0a" stroke-width="1.5" fill="none" opacity="0.85"/><circle cx="705.6" cy="390.1" r="4.2" fill="#8e2f0a"/><text x="0" y="0" font-family='"Liberation Sans", Arial, sans-serif' font-size="21.8" font-weight="normal" text-anchor="start" fill="#000" stroke="#000" stroke-width="0.45" transform="translate(726.8 399.3) scale(1.05 1)">Au17</text><path d="M698.10 416.85L713.10 416.85M700.30 411.55L710.90 422.15M705.60 409.35L705.60 424.35M710.90 411.55L700.30 422.15" stroke="#c96b0c" stroke-width="1.5" fill="none" opacity="0.85"/><circle cx="705.6" cy="416.85" r="4.2" fill="#c96b0c"/><text x="0" y="0" font-family='"Liberation Sans", Arial, sans-serif' font-size="21.8" font-weight="normal" text-anchor="start" fill="#000" stroke="#000" stroke-width="0.45" transform="translate(726.8 426.1) scale(1.05 1)">Au18</text><path d="M698.10 443.60L713.10 443.60M700.30 438.30L710.90 448.90M705.60 436.10L705.60 451.10M710.90 438.30L700.30 448.90" stroke="#2a9a2e" stroke-width="1.5" fill="none" opacity="0.85"/><circle cx="705.6" cy="443.6" r="4.2" fill="#2a9a2e"/><text x="0" y="0" font-family='"Liberation Sans", Arial, sans-serif' font-size="21.8" font-weight="normal" text-anchor="start" fill="#000" stroke="#000" stroke-width="0.45" transform="translate(726.8 452.8) scale(1.05 1)">Sp18</text><path d="M698.10 470.35L713.10 470.35M700.30 465.05L710.90 475.65M705.60 462.85L705.60 477.85M710.90 465.05L700.30 475.65" stroke="#ec3b22" stroke-width="1.5" fill="none" opacity="0.85"/><circle cx="705.6" cy="470.35" r="4.2" fill="#ec3b22"/><text x="0" y="0" font-family='"Liberation Sans", Arial, sans-serif' font-size="21.8" font-weight="normal" text-anchor="start" fill="#000" stroke="#000" stroke-width="0.45" transform="translate(726.8 479.6) scale(1.05 1)">Su17</text><path d="M698.10 497.10L713.10 497.10M700.30 491.80L710.90 502.40M705.60 489.60L705.60 504.60M710.90 491.80L700.30 502.40" stroke="#f06a26" stroke-width="1.5" fill="none" opacity="0.85"/><circle cx="705.6" cy="497.1" r="4.2" fill="#f06a26"/><text x="0" y="0" font-family='"Liberation Sans", Arial, sans-serif' font-size="21.8" font-weight="normal" text-anchor="start" fill="#000" stroke="#000" stroke-width="0.45" transform="translate(726.8 506.3) scale(1.05 1)">Su18</text>
<text x="929.4" y="610.7" font-family='"Liberation Sans", Arial, sans-serif' font-size="20.5" font-weight="bold" text-anchor="middle" fill="#000">NMDS1</text>
<rect x="685.5" y="5.0" width="489.6" height="519.9" fill="none" stroke="#333" stroke-width="1.6"/>
<text x="0" y="0" font-family='"Liberation Sans", Arial, sans-serif' font-size="24" font-weight="bold" text-anchor="middle" fill="#000" transform="translate(737.1 563.9) scale(1.07 1)">-1.0</text>
<text x="0" y="0" font-family='"Liberation Sans", Arial, sans-serif' font-size="24" font-weight="bold" text-anchor="middle" fill="#000" transform="translate(821.2 563.9) scale(1.07 1)">-0.5</text>
<text x="0" y="0" font-family='"Liberation Sans", Arial, sans-serif' font-size="24" font-weight="bold" text-anchor="middle" fill="#000" transform="translate(905.2 563.9) scale(1.07 1)">0.0</text>
<text x="0" y="0" font-family='"Liberation Sans", Arial, sans-serif' font-size="24" font-weight="bold" text-anchor="middle" fill="#000" transform="translate(989.2 563.9) scale(1.07 1)">0.5</text>
<text x="0" y="0" font-family='"Liberation Sans", Arial, sans-serif' font-size="24" font-weight="bold" text-anchor="middle" fill="#000" transform="translate(1073.3 563.9) scale(1.07 1)">1.0</text>
<text x="0" y="0" font-family='"Liberation Sans", Arial, sans-serif' font-size="24" font-weight="bold" text-anchor="middle" fill="#000" transform="translate(1157.3 563.9) scale(1.07 1)">1.5</text>
<text x="0" y="0" font-family='"Liberation Sans", Arial, sans-serif' font-size="24" font-weight="bold" text-anchor="middle" fill="#000" transform="translate(659.5 491.4) rotate(-90)">-1.5</text>
<text x="0" y="0" font-family='"Liberation Sans", Arial, sans-serif' font-size="24" font-weight="bold" text-anchor="middle" fill="#000" transform="translate(659.5 407.5) rotate(-90)">-1.0</text>
<text x="0" y="0" font-family='"Liberation Sans", Arial, sans-serif' font-size="24" font-weight="bold" text-anchor="middle" fill="#000" transform="translate(659.5 323.6) rotate(-90)">-0.5</text>
<text x="0" y="0" font-family='"Liberation Sans", Arial, sans-serif' font-size="24" font-weight="bold" text-anchor="middle" fill="#000" transform="translate(659.5 239.7) rotate(-90)">0.0</text>
<text x="0" y="0" font-family='"Liberation Sans", Arial, sans-serif' font-size="24" font-weight="bold" text-anchor="middle" fill="#000" transform="translate(659.5 155.8) rotate(-90)">0.5</text>
<text x="0" y="0" font-family='"Liberation Sans", Arial, sans-serif' font-size="24" font-weight="bold" text-anchor="middle" fill="#000" transform="translate(659.5 71.9) rotate(-90)">1.0</text>
<path d="M737.1 524.9V535.9M821.2 524.9V535.9M905.2 524.9V535.9M989.2 524.9V535.9M1073.3 524.9V535.9M1157.3 524.9V535.9M685.5 491.4H674.5M685.5 407.5H674.5M685.5 323.6H674.5M685.5 239.7H674.5M685.5 155.8H674.5M685.5 71.9H674.5" stroke="#333" stroke-width="1.4" fill="none"/>
<clipPath id="clip3"><rect x="1279.0" y="3.3" width="489.20000000000005" height="520.2"/></clipPath>
<clipPath id="ce3"><rect x="1281.0" y="5.3" width="484.70000000000005" height="515.7"/></clipPath>
<g clip-path="url(#ce3)">
<clipPath id="ge3"><ellipse cx="1485.66" cy="264.28" rx="183.25" ry="101.73" transform="rotate(-6.43 1485.66 264.28)" fill="rgb(233,254,233)"/></clipPath>
<ellipse cx="1485.66" cy="264.28" rx="183.25" ry="101.73" transform="rotate(-6.43 1485.66 264.28)" fill="rgb(233,254,233)"/>
<ellipse cx="1527.76" cy="263.2" rx="230.6" ry="69.96" transform="rotate(7.44 1527.76 263.2)" fill="rgb(247,237,237)"/>
<g clip-path="url(#ge3)"><ellipse cx="1527.76" cy="263.2" rx="230.6" ry="69.96" transform="rotate(7.44 1527.76 263.2)" fill="rgb(229,240,221)"/></g>
</g>
<g clip-path="url(#clip3)">
<rect x="1307.4" y="209.9" width="8.3" height="8.3" fill="#983006"/>
<rect x="1372.8" y="194.3" width="8.3" height="8.3" fill="#c96b0c"/>
<rect x="1387.9" y="207.3" width="8.3" height="8.3" fill="#c96b0c"/>
<rect x="1391.3" y="226.2" width="8.3" height="8.3" fill="#e8340f"/>
<rect x="1399.3" y="232.7" width="8.3" height="8.3" fill="#e8340f"/>
<rect x="1411.3" y="213.8" width="8.3" height="8.3" fill="#2a9a2e"/>
<rect x="1411.3" y="221.7" width="8.3" height="8.3" fill="#2a9a2e"/>
<rect x="1430.9" y="207.9" width="8.3" height="8.3" fill="#c96b0c"/>
<rect x="1456.6" y="213.2" width="8.3" height="8.3" fill="#c96b0c"/>
<rect x="1468.3" y="217.0" width="8.3" height="8.3" fill="#2a9a2e"/>
<rect x="1464.4" y="219.7" width="8.3" height="8.3" fill="#ef6220"/>
<rect x="1472.2" y="228.8" width="8.3" height="8.3" fill="#c96b0c"/>
<rect x="1440.3" y="224.2" width="8.3" height="8.3" fill="#983006"/>
<rect x="1436.0" y="235.9" width="8.3" height="8.3" fill="#983006"/>
<rect x="1439.4" y="239.4" width="8.3" height="8.3" fill="#2a9a2e"/>
<rect x="1465.0" y="239.8" width="8.3" height="8.3" fill="#e8340f"/>
<rect x="1468.3" y="246.3" width="8.3" height="8.3" fill="#c96b0c"/>
<rect x="1342.4" y="240.4" width="8.3" height="8.3" fill="#e8340f"/>
<rect x="1361.0" y="253.5" width="8.3" height="8.3" fill="#e8340f"/>
<rect x="1394.8" y="248.2" width="8.3" height="8.3" fill="#e8340f"/>
<rect x="1387.9" y="257.4" width="8.3" height="8.3" fill="#2a9a2e"/>
<rect x="1411.3" y="248.9" width="8.3" height="8.3" fill="#2a9a2e"/>
<rect x="1412.3" y="258.1" width="8.3" height="8.3" fill="#2a9a2e"/>
<rect x="1452.0" y="263.2" width="8.3" height="8.3" fill="#2a9a2e"/>
<rect x="1460.5" y="250.8" width="8.3" height="8.3" fill="#2a9a2e"/>
<rect x="1479.2" y="216.2" width="8.3" height="8.3" fill="#c96b0c"/>
<rect x="1484.4" y="223.9" width="8.3" height="8.3" fill="#c96b0c"/>
<rect x="1491.6" y="225.2" width="8.3" height="8.3" fill="#2a9a2e"/>
<rect x="1491.6" y="231.8" width="8.3" height="8.3" fill="#c96b0c"/>
<rect x="1509.1" y="214.8" width="8.3" height="8.3" fill="#ef6220"/>
<rect x="1511.1" y="222.0" width="8.3" height="8.3" fill="#c96b0c"/>
<rect x="1529.3" y="217.4" width="8.3" height="8.3" fill="#ef6220"/>
<rect x="1505.9" y="233.8" width="8.3" height="8.3" fill="#983006"/>
<rect x="1513.8" y="236.9" width="8.3" height="8.3" fill="#c96b0c"/>
<rect x="1517.6" y="237.7" width="8.3" height="8.3" fill="#ef6220"/>
<rect x="1513.0" y="244.2" width="8.3" height="8.3" fill="#ef6220"/>
<rect x="1528.0" y="242.2" width="8.3" height="8.3" fill="#2a9a2e"/>
<rect x="1535.1" y="242.2" width="8.3" height="8.3" fill="#983006"/>
<rect x="1540.3" y="249.9" width="8.3" height="8.3" fill="#983006"/>
<rect x="1552.8" y="246.8" width="8.3" height="8.3" fill="#c96b0c"/>
<rect x="1564.0" y="220.8" width="8.3" height="8.3" fill="#2a9a2e"/>
<rect x="1563.8" y="236.3" width="8.3" height="8.3" fill="#c96b0c"/>
<rect x="1570.2" y="235.0" width="8.3" height="8.3" fill="#c96b0c"/>
<rect x="1578.8" y="240.2" width="8.3" height="8.3" fill="#c96b0c"/>
<rect x="1589.1" y="244.2" width="8.3" height="8.3" fill="#c96b0c"/>
<rect x="1596.9" y="245.4" width="8.3" height="8.3" fill="#983006"/>
<rect x="1589.8" y="253.8" width="8.3" height="8.3" fill="#e8340f"/>
<rect x="1336.8" y="308.6" width="8.3" height="8.3" fill="#2a9a2e"/>
<rect x="1366.4" y="307.2" width="8.3" height="8.3" fill="#e8340f"/>
<rect x="1390.9" y="283.9" width="8.3" height="8.3" fill="#2a9a2e"/>
<rect x="1398.3" y="285.2" width="8.3" height="8.3" fill="#983006"/>
<rect x="1417.2" y="281.2" width="8.3" height="8.3" fill="#e8340f"/>
<rect x="1417.2" y="294.2" width="8.3" height="8.3" fill="#ef6220"/>
<rect x="1406.5" y="300.1" width="8.3" height="8.3" fill="#e8340f"/>
<rect x="1404.5" y="319.0" width="8.3" height="8.3" fill="#983006"/>
<rect x="1465.0" y="274.1" width="8.3" height="8.3" fill="#e8340f"/>
<rect x="1463.1" y="272.8" width="8.3" height="8.3" fill="#983006"/>
<rect x="1472.2" y="320.9" width="8.3" height="8.3" fill="#e8340f"/>
<rect x="1476.6" y="271.9" width="8.3" height="8.3" fill="#e8340f"/>
<rect x="1487.0" y="272.6" width="8.3" height="8.3" fill="#ef6220"/>
<rect x="1498.8" y="271.9" width="8.3" height="8.3" fill="#e8340f"/>
<rect x="1520.8" y="271.9" width="8.3" height="8.3" fill="#983006"/>
<rect x="1525.4" y="276.5" width="8.3" height="8.3" fill="#983006"/>
<rect x="1519.5" y="280.4" width="8.3" height="8.3" fill="#ef6220"/>
<rect x="1529.9" y="270.6" width="8.3" height="8.3" fill="#e8340f"/>
<rect x="1492.9" y="290.8" width="8.3" height="8.3" fill="#e8340f"/>
<rect x="1518.9" y="299.2" width="8.3" height="8.3" fill="#e8340f"/>
<rect x="1548.8" y="288.8" width="8.3" height="8.3" fill="#e8340f"/>
<rect x="1559.2" y="265.4" width="8.3" height="8.3" fill="#2a9a2e"/>
<rect x="1570.9" y="263.5" width="8.3" height="8.3" fill="#c96b0c"/>
<rect x="1583.9" y="271.2" width="8.3" height="8.3" fill="#983006"/>
<rect x="1587.8" y="257.6" width="8.3" height="8.3" fill="#ef6220"/>
<rect x="1591.0" y="254.3" width="8.3" height="8.3" fill="#ef6220"/>
<rect x="1600.8" y="264.8" width="8.3" height="8.3" fill="#ef6220"/>
<rect x="1671.5" y="292.6" width="8.3" height="8.3" fill="#ef6220"/>
<rect x="1338.2" y="351.4" width="8.3" height="8.3" fill="#983006"/>
<rect x="1377.3" y="378.7" width="8.3" height="8.3" fill="#2a9a2e"/>
<rect x="1516.8" y="341.2" width="8.3" height="8.3" fill="#e8340f"/>
<rect x="1354.0" y="434.8" width="8.3" height="8.3" fill="#983006"/>
<rect x="1423.1" y="432.6" width="8.3" height="8.3" fill="#2a9a2e"/>
<path d="M1415.2 191.1L1420.4 200.7L1410.0 200.7Z" fill="none" stroke="#ef4a32" stroke-width="1.35" stroke-linejoin="miter"/>
<path d="M1386.6 217.7L1391.8 227.3L1381.4 227.3Z" fill="none" stroke="#ef4a32" stroke-width="1.35" stroke-linejoin="miter"/>
<path d="M1391.2 219.0L1396.4 228.6L1386.0 228.6Z" fill="none" stroke="#ef4a32" stroke-width="1.35" stroke-linejoin="miter"/>
<path d="M1459.5 231.4L1464.7 241.0L1454.3 241.0Z" fill="none" stroke="#ef4a32" stroke-width="1.35" stroke-linejoin="miter"/>
<path d="M1343.7 250.9L1348.9 260.5L1338.5 260.5Z" fill="none" stroke="#ef4a32" stroke-width="1.35" stroke-linejoin="miter"/>
<path d="M1359.3 245.7L1364.5 255.3L1354.1 255.3Z" fill="none" stroke="#ef4a32" stroke-width="1.35" stroke-linejoin="miter"/>
<path d="M1376.9 253.5L1382.1 263.1L1371.7 263.1Z" fill="none" stroke="#ef4a32" stroke-width="1.35" stroke-linejoin="miter"/>
<path d="M1422.4 261.9L1427.6 271.5L1417.2 271.5Z" fill="none" stroke="#ef4a32" stroke-width="1.35" stroke-linejoin="miter"/>
<path d="M1443.6 261.9L1448.8 271.5L1438.4 271.5Z" fill="none" stroke="#3aa63e" stroke-width="1.35" stroke-linejoin="miter"/>
<path d="M1560.1 181.1L1565.3 190.7L1554.9 190.7Z" fill="none" stroke="#cf7622" stroke-width="1.35" stroke-linejoin="miter"/>
<path d="M1494.9 216.8L1500.1 226.4L1489.7 226.4Z" fill="none" stroke="#cf7622" stroke-width="1.35" stroke-linejoin="miter"/>
<path d="M1492.5 237.0L1497.7 246.6L1487.3 246.6Z" fill="none" stroke="#3aa63e" stroke-width="1.35" stroke-linejoin="miter"/>
<path d="M1499.7 234.4L1504.9 244.0L1494.5 244.0Z" fill="none" stroke="#3aa63e" stroke-width="1.35" stroke-linejoin="miter"/>
<path d="M1516.2 222.7L1521.4 232.3L1511.0 232.3Z" fill="none" stroke="#cf7622" stroke-width="1.35" stroke-linejoin="miter"/>
<path d="M1535.4 232.4L1540.6 242.0L1530.2 242.0Z" fill="none" stroke="#3aa63e" stroke-width="1.35" stroke-linejoin="miter"/>
<path d="M1540.0 233.1L1545.2 242.7L1534.8 242.7Z" fill="none" stroke="#3aa63e" stroke-width="1.35" stroke-linejoin="miter"/>
<path d="M1549.7 228.5L1554.9 238.1L1544.5 238.1Z" fill="none" stroke="#cf7622" stroke-width="1.35" stroke-linejoin="miter"/>
<path d="M1551.0 237.6L1556.2 247.2L1545.8 247.2Z" fill="none" stroke="#f27a3a" stroke-width="1.35" stroke-linejoin="miter"/>
<path d="M1562.7 229.2L1567.9 238.8L1557.5 238.8Z" fill="none" stroke="#f27a3a" stroke-width="1.35" stroke-linejoin="miter"/>
<path d="M1567.3 246.1L1572.5 255.7L1562.1 255.7Z" fill="none" stroke="#f27a3a" stroke-width="1.35" stroke-linejoin="miter"/>
<path d="M1582.2 253.2L1587.4 262.8L1577.0 262.8Z" fill="none" stroke="#f27a3a" stroke-width="1.35" stroke-linejoin="miter"/>
<path d="M1280.0 313.7L1285.2 323.3L1274.8 323.3Z" fill="none" stroke="#ef4a32" stroke-width="1.35" stroke-linejoin="miter"/>
<path d="M1443.6 278.0L1448.8 287.6L1438.4 287.6Z" fill="none" stroke="#cf7622" stroke-width="1.35" stroke-linejoin="miter"/>
<path d="M1511.4 279.0L1516.6 288.6L1506.2 288.6Z" fill="none" stroke="#f27a3a" stroke-width="1.35" stroke-linejoin="miter"/>
<path d="M1557.5 269.9L1562.7 279.5L1552.3 279.5Z" fill="none" stroke="#a4441a" stroke-width="1.35" stroke-linejoin="miter"/>
<path d="M1566.0 275.1L1571.2 284.7L1560.8 284.7Z" fill="none" stroke="#a4441a" stroke-width="1.35" stroke-linejoin="miter"/>
<path d="M1578.3 262.8L1583.5 272.4L1573.1 272.4Z" fill="none" stroke="#3aa63e" stroke-width="1.35" stroke-linejoin="miter"/>
<path d="M1582.2 256.3L1587.4 265.9L1577.0 265.9Z" fill="none" stroke="#f27a3a" stroke-width="1.35" stroke-linejoin="miter"/>
<path d="M1579.0 269.9L1584.2 279.5L1573.8 279.5Z" fill="none" stroke="#a4441a" stroke-width="1.35" stroke-linejoin="miter"/>
<path d="M1579.0 281.6L1584.2 291.2L1573.8 291.2Z" fill="none" stroke="#a4441a" stroke-width="1.35" stroke-linejoin="miter"/>
<path d="M1601.7 255.6L1606.9 265.2L1596.5 265.2Z" fill="none" stroke="#f27a3a" stroke-width="1.35" stroke-linejoin="miter"/>
<path d="M1598.5 265.4L1603.7 275.0L1593.3 275.0Z" fill="none" stroke="#f27a3a" stroke-width="1.35" stroke-linejoin="miter"/>
<path d="M1616.0 269.9L1621.2 279.5L1610.8 279.5Z" fill="none" stroke="#f27a3a" stroke-width="1.35" stroke-linejoin="miter"/>
<path d="M1624.5 265.4L1629.7 275.0L1619.3 275.0Z" fill="none" stroke="#cf7622" stroke-width="1.35" stroke-linejoin="miter"/>
<path d="M1599.8 294.0L1605.0 303.6L1594.6 303.6Z" fill="none" stroke="#a4441a" stroke-width="1.35" stroke-linejoin="miter"/>
<path d="M1625.2 286.2L1630.4 295.8L1620.0 295.8Z" fill="none" stroke="#f27a3a" stroke-width="1.35" stroke-linejoin="miter"/>
<path d="M1636.9 293.3L1642.1 302.9L1631.7 302.9Z" fill="none" stroke="#3aa63e" stroke-width="1.35" stroke-linejoin="miter"/>
<path d="M1623.2 301.1L1628.4 310.7L1618.0 310.7Z" fill="none" stroke="#a4441a" stroke-width="1.35" stroke-linejoin="miter"/>
<path d="M1649.2 282.9L1654.4 292.5L1644.0 292.5Z" fill="none" stroke="#f27a3a" stroke-width="1.35" stroke-linejoin="miter"/>
<path d="M1658.3 282.3L1663.5 291.9L1653.1 291.9Z" fill="none" stroke="#f27a3a" stroke-width="1.35" stroke-linejoin="miter"/>
<path d="M1657.0 316.1L1662.2 325.7L1651.8 325.7Z" fill="none" stroke="#a4441a" stroke-width="1.35" stroke-linejoin="miter"/>
<path d="M1668.4 324.4L1673.6 334.0L1663.2 334.0Z" fill="none" stroke="#3aa63e" stroke-width="1.35" stroke-linejoin="miter"/>
</g>
<path d="M1501.5 265.5L1508.1 323.4M1510.5 317.4L1508.1 323.4L1504.4 318.0" stroke="#8a8a8a" stroke-width="1" fill="none"/>
<path d="M1501.5 265.5L1526.0 363.2M1527.6 356.9L1526.0 363.2L1521.6 358.4" stroke="#8a8a8a" stroke-width="1" fill="none"/>
<path d="M1501.5 265.5L1567.4 328.1M1565.3 321.9L1567.4 328.1L1561.1 326.4" stroke="#8a8a8a" stroke-width="1" fill="none"/>
<path d="M1501.5 265.5L1566.6 356.2M1565.7 349.8L1566.6 356.2L1560.8 353.3" stroke="#8a8a8a" stroke-width="1" fill="none"/>
<path d="M1501.5 265.5L1699.5 368.5M1695.8 363.1L1699.5 368.5L1693.0 368.6" stroke="#8a8a8a" stroke-width="1" fill="none"/>
<text x="1499.5" y="338.7" font-family='"Liberation Sans", Arial, sans-serif' font-size="13" font-weight="normal" text-anchor="start" fill="#999ca4" textLength="18.7" lengthAdjust="spacingAndGlyphs" stroke="#999ca4" stroke-width="0.35">Cal</text>
<text x="1565.0" y="340.9" font-family='"Liberation Sans", Arial, sans-serif' font-size="13" font-weight="normal" text-anchor="start" fill="#999ca4" textLength="23.5" lengthAdjust="spacingAndGlyphs" stroke="#999ca4" stroke-width="0.35">Cap</text>
<text x="1513.6" y="376.2" font-family='"Liberation Sans", Arial, sans-serif' font-size="13" font-weight="normal" text-anchor="start" fill="#999ca4" textLength="29.6" lengthAdjust="spacingAndGlyphs" stroke="#999ca4" stroke-width="0.35">Amp</text>
<text x="1562.7" y="370.2" font-family='"Liberation Sans", Arial, sans-serif' font-size="13" font-weight="normal" text-anchor="start" fill="#999ca4" textLength="22.6" lengthAdjust="spacingAndGlyphs" stroke="#999ca4" stroke-width="0.35">Cor</text>
<text x="1700.0" y="382.1" font-family='"Liberation Sans", Arial, sans-serif' font-size="13" font-weight="normal" text-anchor="start" fill="#999ca4" textLength="28.3" lengthAdjust="spacingAndGlyphs" stroke="#999ca4" stroke-width="0.35">Gam</text>
<rect x="1466.5" y="253.3" width="35.8" height="21.4" fill="#fff" stroke="#222" stroke-width="1.6"/><text x="1470.2" y="271.7" font-family='"Liberation Sans", Arial, sans-serif' font-size="16" font-weight="normal" text-anchor="start" fill="#111" textLength="26.2" lengthAdjust="spacingAndGlyphs">Cod</text>
<rect x="1512.4" y="252.0" width="29.3" height="21.1" fill="#fff" stroke="#222" stroke-width="1.6"/><text x="1516.0" y="269.59999999999997" font-family='"Liberation Sans", Arial, sans-serif' font-size="16" font-weight="normal" text-anchor="start" fill="#111" textLength="20.8" lengthAdjust="spacingAndGlyphs">Tre</text>
<text x="1319.7" y="39.7" font-family='"Liberation Sans", Arial, sans-serif' font-size="22.4" font-weight="normal" text-anchor="start" fill="#000" textLength="140.8" lengthAdjust="spacingAndGlyphs" stroke="#000" stroke-width="0.45">stress = 0.104</text>
<text x="1466.7" y="501.4" font-family='Carlito, "Liberation Sans", Arial, sans-serif' font-size="26" font-weight="bold" text-anchor="start" fill="#000" textLength="279.1" lengthAdjust="spacingAndGlyphs">Main amphipod groups</text>
<rect x="1678.6" y="25.4" width="10.6" height="10.3" fill="#000"/><text x="0" y="0" font-family='"Liberation Sans", Arial, sans-serif' font-size="21.8" font-weight="normal" text-anchor="start" fill="#000" stroke="#000" stroke-width="0.45" transform="translate(1704.4 39.7) scale(1.05 1)">Cod</text><path d="M1683.9 50.7L1690.0 61.8L1677.8 61.8Z" fill="none" stroke="#000" stroke-width="1.4" stroke-linejoin="miter"/><text x="0" y="0" font-family='"Liberation Sans", Arial, sans-serif' font-size="21.8" font-weight="normal" text-anchor="start" fill="#000" stroke="#000" stroke-width="0.45" transform="translate(1704.4 66.5) scale(1.05 1)">Tre</text><path d="M1676.40 84.00L1691.40 84.00M1678.60 78.70L1689.20 89.30M1683.90 76.50L1683.90 91.50M1689.20 78.70L1678.60 89.30" stroke="#8e2f0a" stroke-width="1.5" fill="none" opacity="0.85"/><circle cx="1683.9" cy="84.0" r="4.2" fill="#8e2f0a"/><text x="0" y="0" font-family='"Liberation Sans", Arial, sans-serif' font-size="21.8" font-weight="normal" text-anchor="start" fill="#000" stroke="#000" stroke-width="0.45" transform="translate(1704.4 93.2) scale(1.05 1)">Au17</text><path d="M1676.40 110.75L1691.40 110.75M1678.60 105.45L1689.20 116.05M1683.90 103.25L1683.90 118.25M1689.20 105.45L1678.60 116.05" stroke="#c96b0c" stroke-width="1.5" fill="none" opacity="0.85"/><circle cx="1683.9" cy="110.75" r="4.2" fill="#c96b0c"/><text x="0" y="0" font-family='"Liberation Sans", Arial, sans-serif' font-size="21.8" font-weight="normal" text-anchor="start" fill="#000" stroke="#000" stroke-width="0.45" transform="translate(1704.4 120.0) scale(1.05 1)">Au18</text><path d="M1676.40 137.50L1691.40 137.50M1678.60 132.20L1689.20 142.80M1683.90 130.00L1683.90 145.00M1689.20 132.20L1678.60 142.80" stroke="#2a9a2e" stroke-width="1.5" fill="none" opacity="0.85"/><circle cx="1683.9" cy="137.5" r="4.2" fill="#2a9a2e"/><text x="0" y="0" font-family='"Liberation Sans", Arial, sans-serif' font-size="21.8" font-weight="normal" text-anchor="start" fill="#000" stroke="#000" stroke-width="0.45" transform="translate(1704.4 146.7) scale(1.05 1)">Sp18</text><path d="M1676.40 164.25L1691.40 164.25M1678.60 158.95L1689.20 169.55M1683.90 156.75L1683.90 171.75M1689.20 158.95L1678.60 169.55" stroke="#ec3b22" stroke-width="1.5" fill="none" opacity="0.85"/><circle cx="1683.9" cy="164.25" r="4.2" fill="#ec3b22"/><text x="0" y="0" font-family='"Liberation Sans", Arial, sans-serif' font-size="21.8" font-weight="normal" text-anchor="start" fill="#000" stroke="#000" stroke-width="0.45" transform="translate(1704.4 173.4) scale(1.05 1)">Su17</text><path d="M1676.40 191.00L1691.40 191.00M1678.60 185.70L1689.20 196.30M1683.90 183.50L1683.90 198.50M1689.20 185.70L1678.60 196.30" stroke="#f06a26" stroke-width="1.5" fill="none" opacity="0.85"/><circle cx="1683.9" cy="191.0" r="4.2" fill="#f06a26"/><text x="0" y="0" font-family='"Liberation Sans", Arial, sans-serif' font-size="21.8" font-weight="normal" text-anchor="start" fill="#000" stroke="#000" stroke-width="0.45" transform="translate(1704.4 200.2) scale(1.05 1)">Su18</text>
<text x="1522.2" y="609.5" font-family='"Liberation Sans", Arial, sans-serif' font-size="20.5" font-weight="bold" text-anchor="middle" fill="#000">NMDS1</text>
<rect x="1279.0" y="3.3" width="489.2" height="520.2" fill="none" stroke="#333" stroke-width="1.6"/>
<text x="0" y="0" font-family='"Liberation Sans", Arial, sans-serif' font-size="24" font-weight="bold" text-anchor="middle" fill="#000" transform="translate(1297.2 563.9) scale(1.07 1)">-2</text>
<text x="0" y="0" font-family='"Liberation Sans", Arial, sans-serif' font-size="24" font-weight="bold" text-anchor="middle" fill="#000" transform="translate(1397.8 563.9) scale(1.07 1)">-1</text>
<text x="0" y="0" font-family='"Liberation Sans", Arial, sans-serif' font-size="24" font-weight="bold" text-anchor="middle" fill="#000" transform="translate(1498.4 563.9) scale(1.07 1)">0</text>
<text x="0" y="0" font-family='"Liberation Sans", Arial, sans-serif' font-size="24" font-weight="bold" text-anchor="middle" fill="#000" transform="translate(1599.0 563.9) scale(1.07 1)">1</text>
<text x="0" y="0" font-family='"Liberation Sans", Arial, sans-serif' font-size="24" font-weight="bold" text-anchor="middle" fill="#000" transform="translate(1699.6 563.9) scale(1.07 1)">2</text>
<text x="0" y="0" font-family='"Liberation Sans", Arial, sans-serif' font-size="24" font-weight="bold" text-anchor="middle" fill="#000" transform="translate(1253.0 464.4) rotate(-90)">-2</text>
<text x="0" y="0" font-family='"Liberation Sans", Arial, sans-serif' font-size="24" font-weight="bold" text-anchor="middle" fill="#000" transform="translate(1253.0 363.8) rotate(-90)">-1</text>
<text x="0" y="0" font-family='"Liberation Sans", Arial, sans-serif' font-size="24" font-weight="bold" text-anchor="middle" fill="#000" transform="translate(1253.0 263.1) rotate(-90)">0</text>
<text x="0" y="0" font-family='"Liberation Sans", Arial, sans-serif' font-size="24" font-weight="bold" text-anchor="middle" fill="#000" transform="translate(1253.0 162.5) rotate(-90)">1</text>
<text x="0" y="0" font-family='"Liberation Sans", Arial, sans-serif' font-size="24" font-weight="bold" text-anchor="middle" fill="#000" transform="translate(1253.0 61.8) rotate(-90)">2</text>
<path d="M1297.2 523.5V534.5M1397.8 523.5V534.5M1498.4 523.5V534.5M1599.0 523.5V534.5M1699.6 523.5V534.5M1279.0 464.4H1268.0M1279.0 363.8H1268.0M1279.0 263.1H1268.0M1279.0 162.5H1268.0M1279.0 61.8H1268.0" stroke="#333" stroke-width="1.4" fill="none"/>
</svg>
</body></html>
